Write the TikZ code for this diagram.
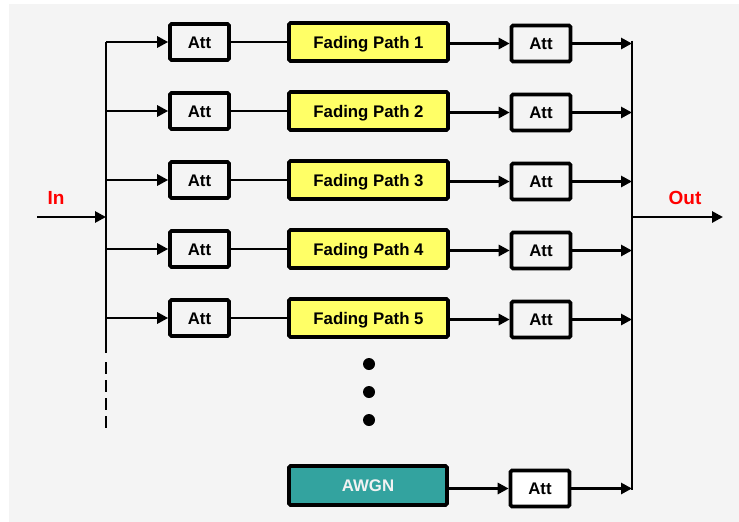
\documentclass[tikz,border=0pt]{standalone}
\usepackage{fontspec}
\setmainfont{Liberation Sans}
\usetikzlibrary{arrows.meta}
\definecolor{bggray}{HTML}{F4F4F4}
\definecolor{fadeyellow}{HTML}{FFFF66}
\definecolor{awgnteal}{HTML}{33A39F}
\definecolor{awgntext}{HTML}{F2F2F2}
\tikzset{
  box/.style={draw=black, line width=3.6pt, rounded corners=1.5pt, inner sep=0pt,
    font=\fontsize{16.8}{18}\selectfont\bfseries, text height=12pt, text depth=0pt},
  attbox/.style={box, minimum width=59pt, minimum height=36pt},
  fadebox/.style={box, fill=fadeyellow, minimum width=159pt, minimum height=38pt},
  awgnbox/.style={box, fill=awgnteal, text=awgntext, minimum width=158pt, minimum height=39pt},
  wire/.style={line width=2.8pt, line cap=butt},
  arr/.style={wire, -{Triangle[length=11pt,width=11pt]}},
  lbl/.style={text=red, font=\fontsize{19}{21}\selectfont\bfseries, inner sep=0pt},
  dot/.style={circle, fill=black, minimum size=12pt, inner sep=0pt}
}
\begin{document}
\begin{tikzpicture}[x=1pt,y=-1pt]
\useasboundingbox (0,0) rectangle (739,522);
\fill[white] (0,0) rectangle (739,522);
\fill[bggray] (9,4) rectangle (739,522);

% buses
\coordinate (lbt) at (106,42);
\coordinate (lbs) at (106,353);
\coordinate (lbd1) at (106,362);
\coordinate (lbd2) at (106,429);
\coordinate (rbt) at (632,42);
\coordinate (rbb) at (632,488.5);
\draw[wire] (lbt) -- (lbs);
\draw[wire, dash pattern=on 12pt off 6pt] (lbd1) -- (lbd2);
\draw[wire] ([yshift=1.4pt]rbt) -- ([yshift=-1.4pt]rbb);

% in/out
\coordinate (inS) at (37,217);
\coordinate (inE) at (106,217);
\coordinate (outS) at (632,217);
\coordinate (outE) at (723,217);
\draw[arr] (inS) -- (inE);
\draw[arr] (outS) -- (outE);
\node[lbl] (inlbl) at (56,198) {In};
\node[lbl] (outlbl) at (685,198) {Out};

% rows
\foreach \i/\y in {1/42,2/111,3/180,4/249,5/318}{
  \node[attbox] (la\i) at (199.5,\y) {Att};
  \node[fadebox] (fp\i) at (368.5,\y) {Fading Path \i};
  \node[attbox] (ra\i) at (541,\y+1.5) {Att};
  \coordinate (lb\i) at (106,\y);
  \coordinate (rb\i) at (632,\y+1.5);
  \draw[arr] (lb\i) -- (la\i.west);
  \draw[wire] (la\i.east) -- (fp\i.west);
  \draw[arr] (fp\i.east |- ra\i.west) -- (ra\i.west);
  \draw[arr] (ra\i.east) -- (rb\i);
}

% dots
\node[dot] (d1) at (369,364) {};
\node[dot] (d2) at (369,392) {};
\node[dot] (d3) at (369,420) {};

% AWGN row
\node[awgnbox] (awgn) at (368,485.5) {AWGN};
\node[attbox, fill=white] (ra6) at (540,488.5) {Att};
\draw[arr] (awgn.east |- ra6.west) -- (ra6.west);
\draw[arr] (ra6.east) -- (rbb);
\end{tikzpicture}
\end{document}
